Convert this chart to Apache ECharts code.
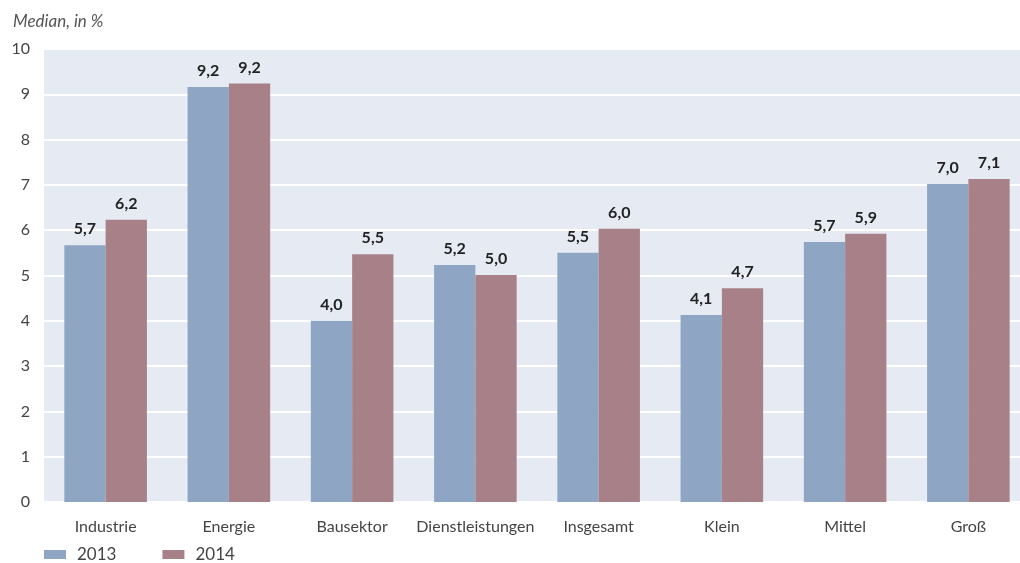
<!DOCTYPE html>
<html>
<head>
<meta charset="utf-8">
<script src="https://cdn.jsdelivr.net/npm/echarts@6/dist/echarts.min.js"></script>
<style>
  html, body { margin: 0; padding: 0; background: #ffffff; }
  #chart { width: 1020px; height: 563px; }
</style>
</head>
<body>
<div id="chart"></div>
<script>
// Sectors and firm sizes
const categories = ['Industrie', 'Energie', 'Bausektor', 'Dienstleistungen', 'Insgesamt', 'Klein', 'Mittel', 'Groß'];
// Median values in percent
const values2013 = [5.67, 9.16, 4.0, 5.23, 5.5, 4.13, 5.74, 7.02];
const values2014 = [6.23, 9.24, 5.47, 5.01, 6.03, 4.72, 5.92, 7.13];
const yTicks = [0, 1, 2, 3, 4, 5, 6, 7, 8, 9, 10];

const FONT = 'Lato, "Open Sans", sans-serif';

const labelStyle = {
  show: true,
  position: 'top',
  distance: 8,
  color: '#222222',
  fontFamily: FONT,
  fontWeight: 'bold',
  fontSize: 16,
  formatter: p => p.value.toFixed(1).replace('.', ',')
};

const chart = echarts.init(document.getElementById('chart'), null, { renderer: 'canvas' });
chart.setOption({
  animation: false,
  backgroundColor: '#ffffff',
  title: {
    text: 'Median, in %',
    left: 8,
    top: 8,
    textStyle: { fontFamily: FONT, fontStyle: 'italic', fontWeight: 'normal', fontSize: 17, color: '#555555' }
  },
  legend: {
    left: 39,
    top: 546,
    padding: [0, 5],
    itemWidth: 22,
    itemHeight: 9,
    itemGap: 46,
    icon: 'rect',
    textStyle: { fontFamily: FONT, fontSize: 17, color: '#444444', padding: [0, 0, 0, 6] },
    data: ['2013', '2014']
  },
  // plot area runs slightly past the right edge of the canvas
  grid: {
    left: 44,
    right: -10,
    top: 49,
    bottom: 61,
    outerBoundsMode: 'none',
    containLabel: false,
    show: true,
    backgroundColor: '#e6eaf2',
    borderWidth: 0
  },
  xAxis: {
    type: 'category',
    data: categories,
    axisLine: { show: false },
    axisTick: { show: false },
    axisLabel: { interval: 0, fontFamily: FONT, fontSize: 16, color: '#444444', margin: 17 }
  },
  yAxis: {
    type: 'value',
    min: yTicks[0],
    max: yTicks[yTicks.length - 1],
    interval: 1,
    axisLine: { show: false },
    axisTick: { show: false },
    splitLine: { show: true, lineStyle: { color: '#ffffff', width: 2 } },
    axisLabel: { fontFamily: FONT, fontSize: 16, color: '#444444', margin: 14 }
  },
  series: [
    {
      name: '2013',
      type: 'bar',
      data: values2013,
      barWidth: '33.5%',
      barGap: '0%',
      itemStyle: { color: '#8fa5c4' },
      label: labelStyle
    },
    {
      name: '2014',
      type: 'bar',
      data: values2014,
      barWidth: '33.5%',
      itemStyle: { color: '#a88088' },
      label: labelStyle
    }
  ]
});
</script>
</body>
</html>
